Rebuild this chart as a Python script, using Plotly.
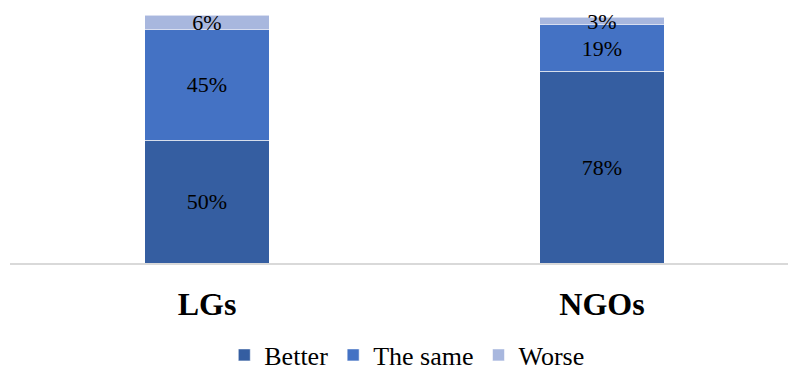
import plotly.graph_objects as go

# Survey responses by respondent group (percent)
groups = ["LGs", "NGOs"]
better = [50, 78]
same = [45, 19]
worse = [6, 3]

series = [
    ("Better", better, "#355ea1"),
    ("The same", same, "#4472c4"),
    ("Worse", worse, "#a8b7de"),
]

serif = "Liberation Serif"

fig = go.Figure()
for name, vals, color in series:
    fig.add_trace(go.Bar(
        name=name,
        x=groups,
        y=vals,
        width=0.314,
        marker=dict(color=color, line=dict(color="rgba(255,255,255,0.55)", width=1)),
        text=[f"{v}%" for v in vals],
        textposition="inside",
        insidetextanchor="middle",
        textangle=0,
        constraintext="none",
        textfont=dict(family=serif, size=22, color="black"),
        hoverinfo="skip",
    ))

fig.update_layout(
    barmode="stack",
    width=788,
    height=370,
    margin=dict(l=10, r=0, t=15, b=107, autoexpand=False),
    paper_bgcolor="white",
    plot_bgcolor="white",
    font=dict(family=serif, color="black"),
    showlegend=True,
    legend=dict(
        orientation="h",
        x=0.51, xanchor="center",
        y=-0.371, yanchor="middle",
        font=dict(family=serif, size=26, color="black"),
        traceorder="normal",
        itemclick=False,
    ),
)
fig.update_xaxes(
    range=[-0.4987, 1.4709],
    showline=True, linecolor="#d9d9d9", linewidth=1.5,
    showgrid=False, zeroline=False, ticks="",
    tickfont=dict(family=serif, size=32, color="black", weight="bold"),
    ticklabelstandoff=12,
)
fig.update_yaxes(range=[0, 101], visible=False, showgrid=False, zeroline=False)

fig.write_html("out.html")
